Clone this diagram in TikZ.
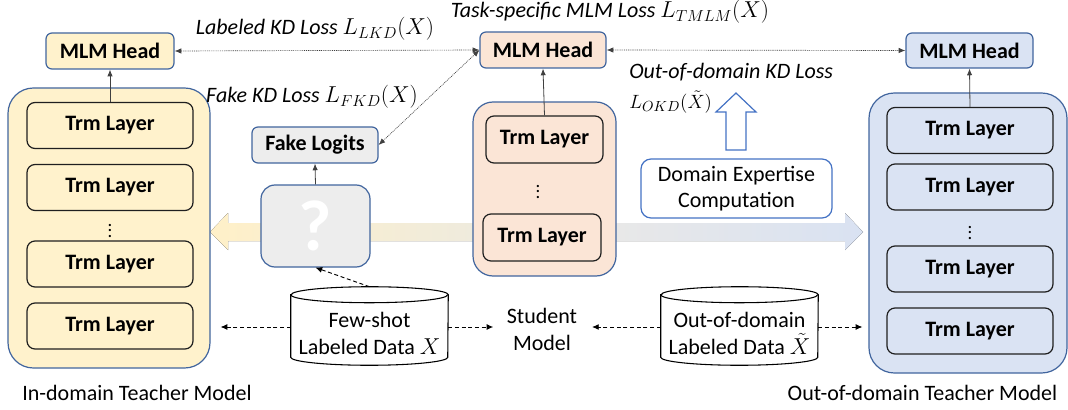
\documentclass[tikz,border=0pt]{standalone}
\usepackage{fontspec}
\setmainfont{Carlito}
\usetikzlibrary{arrows.meta}
\definecolor{yelf}{HTML}{FFF2CC}
\definecolor{orf}{HTML}{FBE5D6}
\definecolor{blf}{HTML}{DAE3F3}
\definecolor{grf}{HTML}{EDEDED}
\definecolor{bordb}{HTML}{41659E}
\definecolor{domb}{HTML}{4472C4}
\definecolor{trmc}{HTML}{1F1F1F}
\definecolor{arrc}{HTML}{404040}
\definecolor{yelA}{HTML}{FFF0C8}
\definecolor{yelB}{HTML}{EFEBDD}
\definecolor{blA}{HTML}{E8E8E8}
\definecolor{blB}{HTML}{D9E2F2}
\newcommand\myfs{\fontsize{16.5}{20}\selectfont}
\begin{document}
\begin{tikzpicture}[x=0.75pt,y=-0.75pt,
  blk/.style={draw=bordb, line width=0.9pt, rounded corners=4.5pt, inner sep=0pt, align=center},
  headbox/.style={blk, font=\myfs\bfseries, minimum width=96pt, minimum height=27pt},
  trm/.style={draw=trmc, line width=0.9pt, rounded corners=6pt, minimum width=124.5pt, minimum height=34.5pt, inner sep=0pt, font=\myfs\bfseries},
  teach/.style={draw=bordb, line width=0.9pt, rounded corners=19pt, inner sep=0pt},
  plain/.style={font=\myfs, align=center, inner sep=0pt},
  dotsnode/.style={font=\fontsize{14}{14}\selectfont, inner sep=0pt},
  losslbl/.style={font=\myfs\itshape, inner sep=0pt, align=left},
  solidarr/.style={-{Latex[length=5pt,width=4pt]}, draw=arrc, line width=0.6pt},
  dasharr/.style={-{Latex[length=5pt,width=4.5pt]}, dash pattern=on 3pt off 2pt, line width=0.7pt},
  dotarr/.style={{Latex[length=5pt,width=4pt]}-{Latex[length=5pt,width=4pt]}, dash pattern=on 0.7pt off 0.7pt, line width=0.5pt, draw=arrc},
  cylbody/.style={draw=black, line width=0.8pt, fill=white}
]
\useasboundingbox (0,0) rectangle (1068,410);

% big shaded arrows (background)
\fill[left color=yelA, right color=yelB] (210,232) -- (228,213) -- (228,223) -- (473,223) -- (473,241) -- (228,241) -- (228,250) -- cycle;
\fill[left color=blA, right color=blB] (616,223) -- (845,223) -- (845,213) -- (863,232) -- (845,250) -- (845,241) -- (616,241) -- cycle;

% in-domain teacher
\node[teach, fill=yelf, minimum width=151.5pt, minimum height=210pt] (lteach) at (109,228) {};
\node[headbox, fill=yelf] (lhead) at (110,51) {MLM Head};
\node[trm, fill=yelf] (lt1) at (110,125.5) {Trm Layer};
\node[trm, fill=yelf] (lt2) at (110,187.5) {Trm Layer};
\node[dotsnode] (ldots) at (110,227) {$\vdots$};
\node[trm, fill=yelf] (lt3) at (110,264) {Trm Layer};
\node[trm, fill=yelf] (lt4) at (110,326) {Trm Layer};
\node[plain] (llab) at (137,393) {In-domain Teacher Model};
\draw[solidarr] (lt1.north) -- (lhead.south);

% fake branch
\node[blk, fill=grf, font=\myfs\bfseries, minimum width=94.5pt, minimum height=27pt] (fake) at (315,145) {Fake Logits};
\node[blk, fill=grf, rounded corners=10.5pt, minimum width=81.75pt, minimum height=61.5pt, font=\fontsize{54}{60}\selectfont\bfseries, text=white] (qbox) at (315.5,226) {?};
\draw[solidarr] (qbox.north) -- (fake.south);

% student
\node[teach, fill=orf, rounded corners=15pt, minimum width=107.25pt, minimum height=130.5pt] (sbox) at (544.5,189) {};
\node[headbox, fill=orf, minimum width=94.5pt] (shead) at (543,50) {MLM Head};
\node[trm, fill=orf, minimum width=87.75pt, minimum height=35.25pt] (st1) at (544.5,139.5) {Trm Layer};
\node[dotsnode] (sdots) at (538,188) {$\vdots$};
\node[trm, fill=orf, minimum width=88.5pt, minimum height=35.25pt] (st2) at (542,237.5) {Trm Layer};
\draw[solidarr] (st1.north) -- (shead.south);

% out-of-domain teacher
\node[teach, fill=blf, minimum width=148.5pt, minimum height=210pt] (rteach) at (968,233) {};
\node[headbox, fill=blf, minimum width=95.25pt, minimum height=26.25pt] (rhead) at (969.5,50.5) {MLM Head};
\node[trm, fill=blf] (rt1) at (970,130.5) {Trm Layer};
\node[trm, fill=blf] (rt2) at (970,187) {Trm Layer};
\node[dotsnode] (rdots) at (970,229) {$\vdots$};
\node[trm, fill=blf] (rt3) at (970,269) {Trm Layer};
\node[trm, fill=blf] (rt4) at (970,331) {Trm Layer};
\node[plain] (rlab) at (922.5,393) {Out-of-domain Teacher Model};
\draw[solidarr] (rt1.north) -- (rhead.south);

% domain expertise
\node[draw=domb, line width=0.9pt, rounded corners=7.5pt, fill=white, minimum width=143.25pt, minimum height=44.25pt, font=\myfs, align=center, inner sep=0pt] (dom) at (736.5,188.5) {Domain Expertise\\Computation};
\draw[draw=domb, line width=0.9pt, fill=white] (726,150) -- (726,112) -- (716,112) -- (736,93) -- (756,112) -- (746,112) -- (746,150) -- cycle;

% data cylinders
\node[plain, minimum width=117.75pt, minimum height=46.5pt] (fs) at (369.5,334) {};
\draw[cylbody] ([yshift=6pt]fs.north west) -- ([yshift=6pt]fs.south west) arc[start angle=180, end angle=360, x radius=58.875pt, y radius=6pt] -- ([yshift=6pt]fs.north east) arc[start angle=0, end angle=180, x radius=58.875pt, y radius=6pt] -- cycle;
\draw[line width=0.8pt] ([yshift=6pt]fs.north west) arc[start angle=180, end angle=360, x radius=58.875pt, y radius=6pt];
\node[plain] (fst) at (369.5,333.5) {Few-shot\\Labeled Data $X$};
\coordinate (fstop) at ([yshift=12pt]fs.north);

\node[plain, minimum width=117.75pt, minimum height=46.5pt] (od) at (739.5,334) {};
\draw[cylbody] ([yshift=6pt]od.north west) -- ([yshift=6pt]od.south west) arc[start angle=180, end angle=360, x radius=58.875pt, y radius=6pt] -- ([yshift=6pt]od.north east) arc[start angle=0, end angle=180, x radius=58.875pt, y radius=6pt] -- cycle;
\draw[line width=0.8pt] ([yshift=6pt]od.north west) arc[start angle=180, end angle=360, x radius=58.875pt, y radius=6pt];
\node[plain] (odt) at (739.5,333.5) {Out-of-domain\\Labeled Data $\tilde{X}$};

\node[plain] (stud) at (542,329.5) {Student\\Model};

% dashed data arrows
\draw[dasharr, shorten >=7.5pt] ([yshift=5.25pt]fs.west) -- ([yshift=5.25pt]fs.west -| lteach.east);
\draw[dasharr, shorten >=10pt] ([yshift=5.25pt]fs.east) -- ([yshift=5.25pt]fs.east -| stud.west);
\draw[dasharr, shorten >=11pt] ([yshift=5.25pt]od.west) -- ([yshift=5.25pt]od.west -| stud.east);
\draw[dasharr, shorten >=4.5pt] ([yshift=5.25pt]od.east) -- ([yshift=5.25pt]od.east -| rteach.west);
\draw[dasharr] (fstop) -- (qbox.south);

% dotted loss arrows
\draw[dotarr] (shead.west) -- (lhead.east);
\draw[dotarr] (shead.east) -- (rhead.west);
\draw[dotarr] (fake.east) -- (shead.west);

% loss labels
\node[losslbl] (lkd) at (315,29) {Labeled KD Loss $L_{LKD}(X)$};
\node[losslbl] (tmlm) at (610,12) {Task-specific MLM Loss $L_{TMLM}(X)$};
\node[losslbl] (fkd) at (312,97) {Fake KD Loss $L_{FKD}(X)$};
\node[losslbl, anchor=west] (okd) at (629,72) {Out-of-domain KD Loss};
\node[losslbl, anchor=west, font=\fontsize{15}{18}\selectfont] (okd2) at (629,102) {$L_{OKD}(\tilde{X})$};
\end{tikzpicture}
\end{document}
